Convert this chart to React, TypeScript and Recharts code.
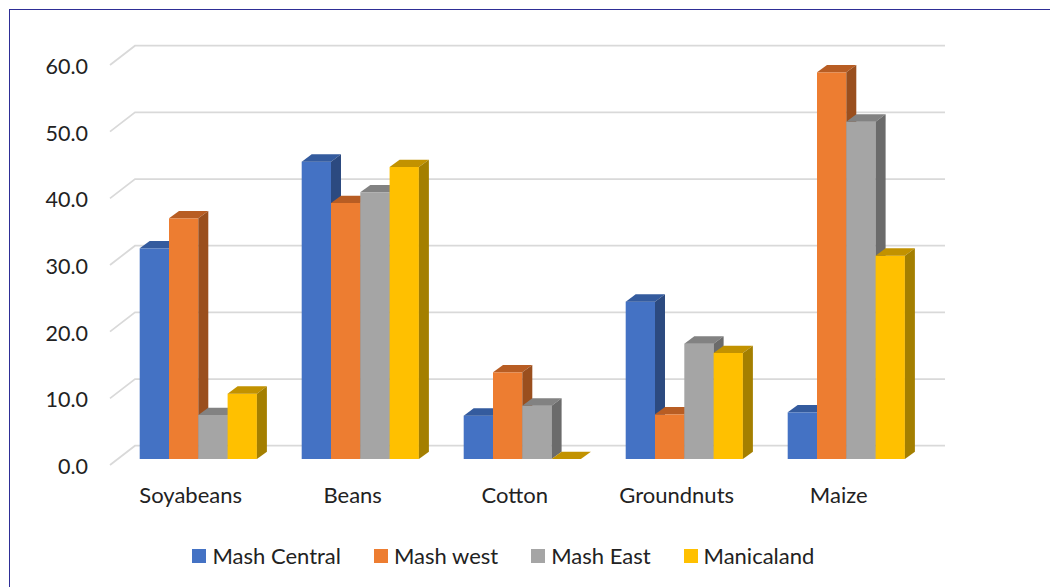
import { BarChart, Bar, XAxis, YAxis, CartesianGrid, Legend } from "recharts";

const crops = ["Soyabeans", "Beans", "Cotton", "Groundnuts", "Maize"];
const mashCentral = [31.6, 44.6, 6.5, 23.6, 7.0];
const mashWest = [36.1, 38.4, 13.0, 6.7, 58.0];
const mashEast = [6.6, 40.0, 8.0, 17.3, 50.6];
const manicaland = [9.8, 43.8, 0, 15.9, 30.5];
const yTicks = [0, 10, 20, 30, 40, 50, 60];

const series = [
  { key: "mashCentral", name: "Mash Central", face: "#4472C4", top: "#345B9E", side: "#2C4A80" },
  { key: "mashWest", name: "Mash west", face: "#ED7D31", top: "#B85D23", side: "#9A4F1E" },
  { key: "mashEast", name: "Mash East", face: "#A5A5A5", top: "#828282", side: "#6B6B6B" },
  { key: "manicaland", name: "Manicaland", face: "#FFC000", top: "#C29200", side: "#A47F00" },
];

const data = crops.map((crop, i) => ({
  crop,
  mashCentral: mashCentral[i],
  mashWest: mashWest[i],
  mashEast: mashEast[i],
  manicaland: manicaland[i],
}));

const FONT = "Lato, 'Gill Sans', sans-serif";
const TEXT = "#222222";

// bar depth
const DX = 10;
const DY = 7.3;
// back wall and front floor edge relative to the bar face plane
const BACK_X = 17.3;
const BACK_Y = 13.3;
const FRONT_X = 7.7;
const FRONT_Y = 6;

type Colors = { face: string; top: string; side: string };

function Box3D(props: any & { colors: Colors }) {
  const { x, y, width, height, colors } = props;
  if (x == null || y == null) return null;
  const w = width;
  const h = Math.max(0, height);
  return (
    <g>
      <rect x={x} y={y} width={w} height={h} fill={colors.face} />
      <polygon
        points={`${x},${y} ${x + DX},${y - DY} ${x + w + DX},${y - DY} ${x + w},${y}`}
        fill={colors.top}
      />
      {h > 0 && (
        <polygon
          points={`${x + w},${y} ${x + w + DX},${y - DY} ${x + w + DX},${y + h - DY} ${x + w},${y + h}`}
          fill={colors.side}
        />
      )}
    </g>
  );
}

function GridLine(props: any) {
  const { x1, x2, y1 } = props;
  return (
    <polyline
      key={props.key}
      points={`${x1 - FRONT_X},${y1 + FRONT_Y} ${x1 + BACK_X},${y1 - BACK_Y} ${x2 + BACK_X},${y1 - BACK_Y}`}
      fill="none"
      stroke="#D9D9D9"
      strokeWidth={1.75}
    />
  );
}

function YTick(props: any) {
  const { y, payload } = props;
  return (
    <text x={78} y={y + 7} textAnchor="end" dominantBaseline="central" fill={TEXT} fontSize={21.5} fontFamily={FONT}>
      {Number(payload.value).toFixed(1)}
    </text>
  );
}

function XTick(props: any) {
  const { x, y, payload } = props;
  return (
    <text x={x - 8} y={y + 35} textAnchor="middle" dominantBaseline="central" fill={TEXT} fontSize={22} fontFamily={FONT}>
      {payload.value}
    </text>
  );
}

function LegendContent() {
  return (
    <div style={{ display: "flex", justifyContent: "center", alignItems: "center", fontFamily: FONT, fontSize: 22, color: TEXT }}>
      {series.map((s, i) => (
        <div key={s.key} style={{ display: "flex", alignItems: "center", marginLeft: i === 0 ? 0 : 33 }}>
          <span style={{ width: 14, height: 14, background: s.face, marginRight: 6, display: "inline-block" }} />
          <span>{s.name}</span>
        </div>
      ))}
    </div>
  );
}

export default function App() {
  return (
    <div
      style={{
        position: "relative",
        left: 1,
        top: 1,
        width: 1048,
        height: 578,
        borderTop: "1px solid #2E2E96",
        borderLeft: "1px solid #2E2E96",
        background: "#fff",
      }}
    >
      <BarChart
        width={1048}
        height={578}
        data={data}
        margin={{ top: 49, right: 130.3, bottom: 69, left: 0 }}
        barGap={0}
      >
        <CartesianGrid vertical={false} horizontal={(p: any) => <GridLine {...p} />} />
        <XAxis dataKey="crop" axisLine={false} tickLine={false} tickSize={0} tickMargin={0} height={60} tick={<XTick />} />
        <YAxis
          domain={[0, 60]}
          ticks={yTicks}
          axisLine={false}
          tickLine={false}
          width={107.7}
          tick={<YTick />}
        />
        <Legend
          layout="horizontal"
          verticalAlign="middle"
          align="center"
          wrapperStyle={{ top: 532, left: 0, width: 986.8 }}
          content={<LegendContent />}
        />
        {series.map((s) => (
          <Bar
            key={s.key}
            dataKey={s.key}
            name={s.name}
            fill={s.face}
            barSize={29.3}
            isAnimationActive={false}
            shape={(p: any) => <Box3D {...p} colors={s} />}
          />
        ))}
      </BarChart>
    </div>
  );
}
